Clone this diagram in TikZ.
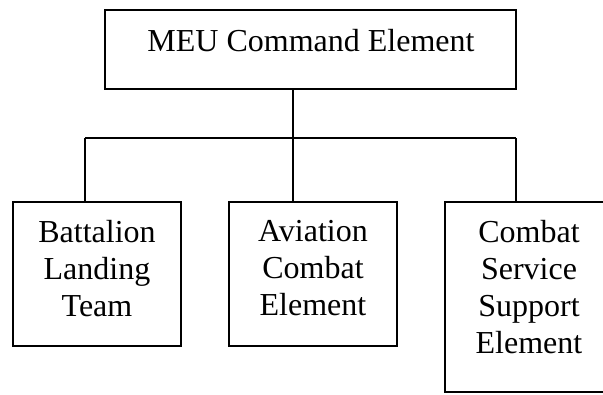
\documentclass[tikz,border=0pt]{standalone}
\usepackage{fontspec}
\setmainfont{Liberation Serif}
\begin{document}
\begin{tikzpicture}[x=1pt,y=-1pt,
  box/.style={draw=black,line width=1.4pt,rectangle,inner sep=0pt},
  lbl/.style={inner sep=0pt,align=center,font=\fontsize{32}{37}\selectfont},
  conn/.style={draw=black,line width=1.4pt}]
\clip (0,0) rectangle (603,394);
\fill[white] (0,0) rectangle (603,394);
% top box
\node[box,minimum width=411pt,minimum height=79pt] (top) at (310.5,49.5) {};
\node[lbl,anchor=base] (toptxt) at (311,51) {MEU Command Element};
% bottom boxes
\node[box,minimum width=168pt,minimum height=144pt] (blt) at (97,274) {};
\node[box,minimum width=168pt,minimum height=144pt] (ace) at (313,274) {};
\node[box,minimum width=210pt,minimum height=190pt] (csse) at (550,297) {};
\node[lbl,anchor=north] (blttxt) at (97,220) {Battalion\\Landing\\Team};
\node[lbl,anchor=north] (acetxt) at (313,220) {Aviation\\Combat\\Element};
\node[lbl,anchor=north] (cssetxt) at (529,220) {Combat\\Service\\Support\\Element};
% connectors
\coordinate (jl) at (85,138);
\coordinate (jm) at (293,138);
\coordinate (jr) at (516,138);
\draw[conn] (top.south -| jm) -- (jm);
\draw[conn] (jl) -- (jr);
\draw[conn] (jl) -- (blt.north -| jl);
\draw[conn] (jm) -- (ace.north -| jm);
\draw[conn] (jr) -- (csse.north -| jr);
\end{tikzpicture}
\end{document}
